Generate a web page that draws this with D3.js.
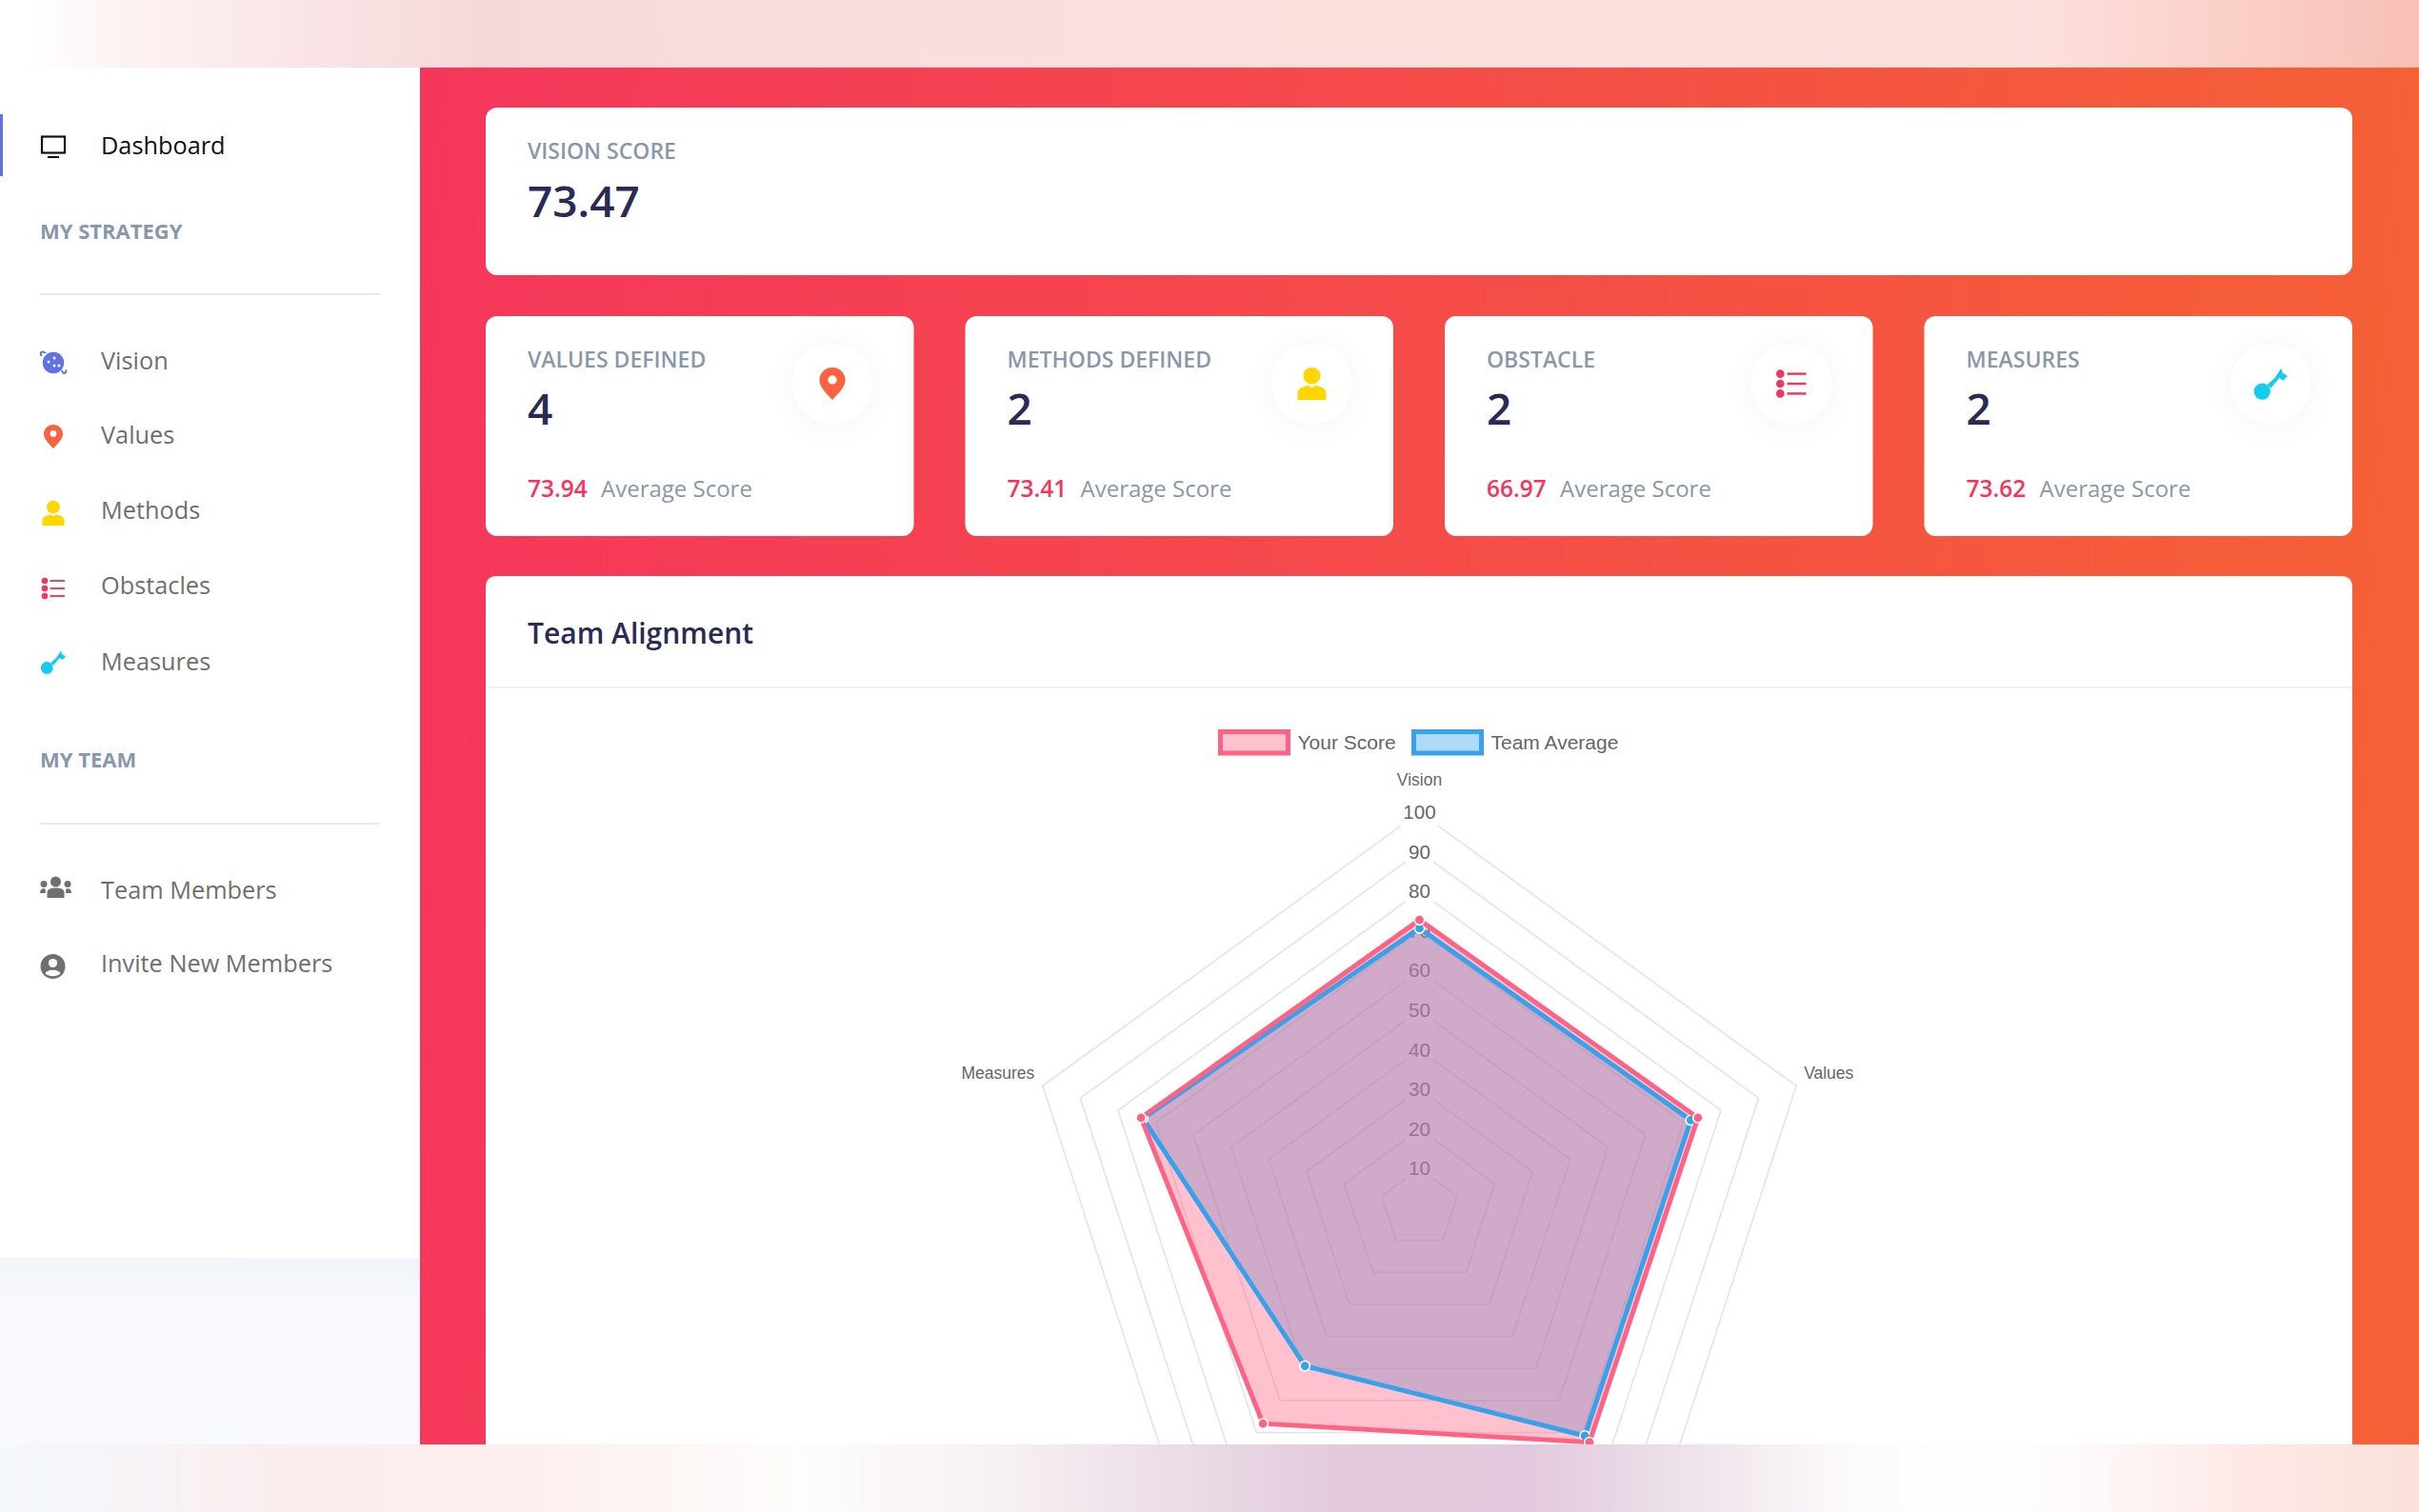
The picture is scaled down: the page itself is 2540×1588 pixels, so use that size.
<!DOCTYPE html>
<html><head><meta charset="utf-8">
<script src="https://cdn.jsdelivr.net/npm/d3@7"></script>
<style>
html,body{margin:0;padding:0;background:#fff;overflow:hidden}
svg{display:block}
text{font-family:"Open Sans",sans-serif;dominant-baseline:central}
.chart text{font-family:"Liberation Sans",Arial,sans-serif}
</style></head><body>
<script>
const axisLabels = ["Vision","Values","Methods","Obstacles","Measures"];
const yourScore = [72.8,73.9,73.0,67.2,73.9];
const teamAverage = [70.7,72.0,71.0,49.2,73.4];
const radialTicks = [10,20,30,40,50,60,70,80,90,100];
const seriesNames = ["Your Score","Team Average"];

const strategyItems = ["Vision","Values","Methods","Obstacles","Measures"];
const teamItems = ["Team Members","Invite New Members"];
const cardTitles = ["VALUES DEFINED","METHODS DEFINED","OBSTACLE","MEASURES"];
const cardCounts = ["4","2","2","2"];
const cardScores = ["73.94","73.41","66.97","73.62"];

const W=2540,H=1588;
const svg=d3.select("body").append("svg").attr("width",W).attr("height",H).attr("viewBox",`0 0 ${W} ${H}`);
const defs=svg.append("defs");
function grad(id,stops,x2=1,y2=0){
  const g=defs.append("linearGradient").attr("id",id).attr("x1",0).attr("y1",0).attr("x2",x2).attr("y2",y2);
  stops.forEach(s=>g.append("stop").attr("offset",s[0]).attr("stop-color",s[1]));
}
grad("bgRed",[[0,"#f5365c"],[1,"#f56036"]],1,0.04);
grad("topBand",[[0,"#ffffff"],[.012,"#ffffff"],[.052,"#fdf2f2"],[.13,"#f9e4e5"],[.197,"#f6d8da"],[.32,"#fadcdd"],[.6,"#fddfde"],[.84,"#fde0dd"],[.92,"#fbd0c9"],[1,"#f7c0b6"]]);
grad("bottomBand",[[0,"#f5f8fc"],[.05,"#f7f4f8"],[.12,"#fbeced"],[.22,"#fcf0ee"],[.33,"#fefcfc"],[.41,"#f7f1f4"],[.49,"#ebdce6"],[.55,"#e3cbdd"],[.63,"#e2c8dc"],[.69,"#ecdfe9"],[.76,"#fcf9fa"],[.81,"#fffefe"],[.86,"#fefafa"],[.93,"#fde8e6"],[1,"#fbe0dc"]]);
grad("sideFade",[[0,"#f1f4fa"],[1,"#f7f9fd"]],0,1);
const f1=defs.append("filter").attr("id","iconShadow").attr("x","-100%").attr("y","-100%").attr("width","300%").attr("height","300%");
f1.append("feDropShadow").attr("dx",0).attr("dy",2).attr("stdDeviation",14).attr("flood-color","#000").attr("flood-opacity",.045);

// page background
svg.append("rect").attr("width",W).attr("height",H).attr("fill","#fff");
svg.append("rect").attr("x",0).attr("y",1321).attr("width",441).attr("height",H-1321).attr("fill","#f7f9fd");
svg.append("rect").attr("x",0).attr("y",1321).attr("width",441).attr("height",50).attr("fill","url(#sideFade)");
svg.append("rect").attr("x",441).attr("y",71).attr("width",W-441).attr("height",H-71).attr("fill","url(#bgRed)");

// --- icons ---
const INK={blue:"#5e72e4",orange:"#fb6340",yellow:"#ffd600",red:"#f5365c",cyan:"#11cdef",gray:"#707070"};
const icons={
  Vision(g){
    g.append("circle").attr("r",11.2).attr("fill",INK.blue);
    [[-5,-1],[1,-5],[1,3],[6,3]].forEach(d=>g.append("circle").attr("cx",d[0]).attr("cy",d[1]).attr("r",1.5).attr("fill","#fff"));
    g.append("path").attr("d","M-8,-10 C-12,-13 -14.5,-11 -12.5,-7 M9,8 C10,12 13.5,12 13.5,7.5").attr("fill","none").attr("stroke",INK.blue).attr("stroke-width",2);
  },
  Values(g){
    g.append("path").attr("d","M0,-12.5 C-5.8,-12.5 -10,-8 -10,-2.8 C-10,3 -3.5,8.5 0,12.5 C3.5,8.5 10,3 10,-2.8 C10,-8 5.8,-12.5 0,-12.5 Z").attr("fill",INK.orange);
    g.append("circle").attr("cy",-3).attr("r",3.4).attr("fill","#fff");
  },
  Methods(g){
    g.append("ellipse").attr("cy",-6.5).attr("rx",7).attr("ry",6.8).attr("fill",INK.yellow);
    g.append("path").attr("d","M-11.5,13 L-11.5,8 C-11.5,3 -6,2 -3,1.5 L0,3 L3,1.5 C6,2 11.5,3 11.5,8 L11.5,13 Z").attr("fill",INK.yellow);
  },
  Obstacles(g){
    [-8,0,8].forEach(y=>{
      g.append("circle").attr("cx",-9).attr("cy",y).attr("r",3.3).attr("fill",INK.red);
      g.append("line").attr("x1",-3.5).attr("x2",12).attr("y1",y).attr("y2",y).attr("stroke",INK.red).attr("stroke-width",1.9);
    });
  },
  Measures(g){
    g.append("circle").attr("cx",-6.8).attr("cy",6).attr("r",6.4).attr("fill",INK.cyan);
    g.append("path").attr("d","M-3,1 L3,-4.5 L8,-12 L9,-8.5 L13,-6 L9.5,-2.5 L6.5,-4.5 L0,3.5 Z").attr("fill",INK.cyan);
  },
  "Team Members"(g){
    g.append("circle").attr("cy",-6).attr("r",5.5).attr("fill",INK.gray);
    g.append("path").attr("d","M-9,11 L-9,6 C-9,1 -4,0.5 0,0.5 C4,0.5 9,1 9,6 L9,11 Z").attr("fill",INK.gray);
    [-1,1].forEach(s=>{
      g.append("circle").attr("cx",s*12.5).attr("cy",-3.5).attr("r",3.5).attr("fill",INK.gray);
      g.append("path").attr("d",`M${s*10.5},6 L${s*16.5},6 C${s*16.5},1.5 ${s*14},0.5 ${s*11},1.5 Z`).attr("fill",INK.gray);
    });
  },
  "Invite New Members"(g){
    g.append("circle").attr("r",13).attr("fill",INK.gray);
    g.append("circle").attr("cy",-3.5).attr("r",4.6).attr("fill","#fff");
    g.append("path").attr("d","M-8,7.5 C-6,2.5 6,2.5 8,7.5 C4,11 -4,11 -8,7.5 Z").attr("fill","#fff");
  }
};

// --- sidebar ---
const side=svg.append("g");
side.append("rect").attr("x",0).attr("y",120).attr("width",3).attr("height",65).attr("fill",INK.blue);
const mon=side.append("g");
mon.append("rect").attr("x",44).attr("y",143.5).attr("width",24).attr("height",17).attr("fill","none").attr("stroke","#111").attr("stroke-width",2.2);
mon.append("line").attr("x1",50).attr("x2",62).attr("y1",165).attr("y2",165).attr("stroke","#111").attr("stroke-width",2);
side.append("text").attr("x",106).attr("y",151.5).attr("font-size",25.3).attr("fill","#111").text("Dashboard");

const heading=(t,y)=>side.append("text").attr("x",42).attr("y",y).attr("font-size",22).attr("font-weight",700).attr("fill","#8798ad").text(t);
heading("MY STRATEGY",241.5);
heading("MY TEAM",796.5);
[309,865].forEach(y=>side.append("line").attr("x1",42).attr("x2",399).attr("y1",y).attr("y2",y).attr("stroke","#e6e8ec").attr("stroke-width",2));

const stratY=[378,456,535,614,694];
const stratIconDy=[3,2.5,4,4,1.5];
strategyItems.forEach((t,i)=>{
  side.append("text").attr("x",106).attr("y",stratY[i]).attr("font-size",25.3).attr("fill","#6f6f6f").text(t);
  icons[t](side.append("g").attr("transform",`translate(56,${stratY[i]+stratIconDy[i]})`));
});
const teamY=[933.5,1011];
const teamIconX=[58.5,55.5], teamIconY=[932,1015];
teamItems.forEach((t,i)=>{
  side.append("text").attr("x",106).attr("y",teamY[i]).attr("font-size",25.3).attr("fill","#6f6f6f").text(t);
  icons[t](side.append("g").attr("transform",`translate(${teamIconX[i]},${teamIconY[i]})`));
});

// --- cards ---
const cards=svg.append("g");
const card=(x,y,w,h)=>cards.append("rect").attr("x",x).attr("y",y).attr("width",w).attr("height",h).attr("rx",12).attr("fill","#fff");
card(510,113,1960,176);
cards.append("text").attr("x",554).attr("y",158).attr("font-size",23).attr("font-weight",600).attr("fill","#8898aa").text("VISION SCORE");
cards.append("text").attr("x",554).attr("y",209.5).attr("font-size",46).attr("font-weight",600).attr("fill","#2b2a55").text("73.47");

const cardX=d3.scaleLinear().domain([0,3]).range([510,2020.5]);
const cardIconKeys=["Values","Methods","Obstacles","Measures"];
const cardIconScale=[1.36,1.3,1.3,1.35];
cardTitles.forEach((t,i)=>{
  const x=cardX(i);
  card(x,332,449.5,231);
  cards.append("text").attr("x",x+44).attr("y",377).attr("font-size",23).attr("font-weight",600).attr("fill","#8898aa").text(t);
  cards.append("text").attr("x",x+44).attr("y",427.5).attr("font-size",46).attr("font-weight",600).attr("fill","#2b2a55").text(cardCounts[i]);
  cards.append("text").attr("x",x+44).attr("y",512).attr("font-size",24.5).attr("font-weight",600).attr("fill","#f5365c").text(cardScores[i]);
  cards.append("text").attr("x",x+121).attr("y",512).attr("font-size",24).attr("fill","#8898aa").text("Average Score");
  const cx=x+364, cy=403;
  cards.append("circle").attr("cx",cx).attr("cy",cy).attr("r",42).attr("fill","#fff").attr("filter","url(#iconShadow)");
  icons[cardIconKeys[i]](cards.append("g").attr("transform",`translate(${cx},${cy}) scale(${cardIconScale[i]})`));
});

// alignment card
cards.append("path").attr("d",`M510,${H} L510,617 Q510,605 522,605 L2458,605 Q2470,605 2470,617 L2470,${H} Z`).attr("fill","#fff");
cards.append("text").attr("x",554).attr("y",664).attr("font-size",30).attr("font-weight",600).attr("fill","#2b2a55").text("Team Alignment");
cards.append("line").attr("x1",510).attr("x2",2470).attr("y1",722).attr("y2",722).attr("stroke","#f0f1f3").attr("stroke-width",2);

// --- radar chart ---
const chart=svg.append("g").attr("class","chart");
const cx=1490.5, cy=1269;
const rScale=d3.scaleLinear().domain([0,100]).range([0,416]);
const angle=d3.scalePoint().domain(d3.range(axisLabels.length+1)).range([0,2*Math.PI]);
const plot=chart.append("g").attr("transform",`translate(${cx},${cy})`);
const radial=d3.lineRadial().angle((d,i)=>angle(i)).radius(d=>rScale(d)).curve(d3.curveLinearClosed);

// rings
plot.selectAll("path.ring").data(radialTicks).join("path").attr("class","ring")
  .attr("d",t=>radial(axisLabels.map(()=>t)))
  .attr("fill","none").attr("stroke","#e6e6e6").attr("stroke-width",1.8);

// tick backdrops and labels
plot.selectAll("rect.back").data(radialTicks).join("rect").attr("class","back")
  .attr("x",t=>t===100?-19.5:-14.5).attr("width",t=>t===100?39:29)
  .attr("y",t=>-rScale(t)-15.5).attr("height",31).attr("fill","#fff");
plot.selectAll("text.tick").data(radialTicks).join("text").attr("class","tick")
  .attr("y",t=>-rScale(t)-0.5).attr("text-anchor","middle").attr("font-size",20.6).attr("fill","#666").text(t=>t);

// point labels
axisLabels.forEach((t,i)=>{
  const p=d3.pointRadial(angle(i),rScale(100));
  const px=cx+p[0], py=cy+p[1];
  if(py>1500) return;
  let anchor="middle",tx=px,ty=py-34;
  if(p[0]>1){anchor="start";tx=px+8;ty=py-13;}
  if(p[0]<-1){anchor="end";tx=px-8.5;ty=py-13;}
  chart.append("text").attr("x",tx).attr("y",ty).attr("text-anchor",anchor).attr("font-size",17.5).attr("fill","#666").text(t);
});

// datasets: fills first, then the outlines and points above them
const COLORS=["rgb(255,99,132)","rgb(54,162,235)"];
const FILLS=["rgba(255,99,132,0.4)","rgba(54,162,235,0.4)"];
const order=[[teamAverage,1],[yourScore,0]];
order.forEach(([vals,k])=>plot.append("path").attr("d",radial(vals)).attr("fill",FILLS[k]));
order.forEach(([vals,k])=>{
  plot.append("path").attr("d",radial(vals)).attr("fill","none").attr("stroke",COLORS[k]).attr("stroke-width",5).attr("stroke-linejoin","miter");
  plot.selectAll(`circle.s${k}`).data(vals).join("circle").attr("class",`s${k}`)
    .attr("cx",(d,i)=>d3.pointRadial(angle(i),rScale(d))[0])
    .attr("cy",(d,i)=>d3.pointRadial(angle(i),rScale(d))[1])
    .attr("r",5.2).attr("fill",COLORS[k]).attr("stroke","#fff").attr("stroke-width",1.6);
});

// legend
const legX=[1279,1482], legTx=[1362.5,1565.5];
seriesNames.forEach((t,i)=>{
  chart.append("rect").attr("x",legX[i]+2.5).attr("y",768.5).attr("width",71).attr("height",22.5)
    .attr("fill",FILLS[i]).attr("stroke",COLORS[i]).attr("stroke-width",5);
  chart.append("text").attr("x",legTx[i]).attr("y",779).attr("font-size",21).attr("fill","#666").text(t);
});

// top/bottom bands
svg.append("rect").attr("x",0).attr("y",0).attr("width",W).attr("height",71).attr("fill","url(#topBand)");
svg.append("rect").attr("x",0).attr("y",1517).attr("width",W).attr("height",H-1517).attr("fill","url(#bottomBand)");
</script>
</body></html>
